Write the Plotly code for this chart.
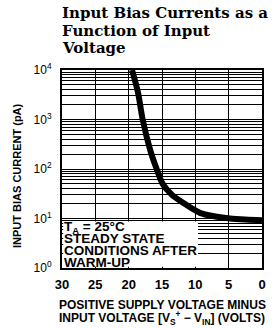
import plotly.graph_objects as go

# Data (volts, pA)
voltage = [19.5, 18.6, 17.9, 16.8, 15.8, 14.9, 13.5, 11.9, 9.3, 7.0, 4.8, 2.5, 0.0]
bias_pa = [10000, 3500, 1000, 250, 100, 50, 30, 21, 13, 11, 10, 9.5, 9.2]

x_ticks = [30, 25, 20, 15, 10, 5, 0]
y_ticks = [1, 10, 100, 1000, 10000]
y_ticktext = ["10<sup>0</sup>", "10<sup>1</sup>", "10<sup>2</sup>", "10<sup>3</sup>", "10<sup>4</sup>"]
y_minor = [m * 10 ** d for d in range(4) for m in range(2, 10)]

title_lines = ["Input Bias Currents as a", "Function of Input", "Voltage"]
box_lines = ["T<sub>A</sub> = 25°C", "STEADY STATE", "CONDITIONS AFTER", "WARM-UP"]
xtitle_lines = ["POSITIVE SUPPLY VOLTAGE MINUS",
                "INPUT VOLTAGE [V<sub>S</sub><sup>+</sup> − V<sub>IN</sub>] (VOLTS)"]

SANS = "Liberation Sans, Arial, sans-serif"
SERIF = "DejaVu Serif, serif"

W, H = 277, 328
ML, MR, MT, MB = 62, 15, 70, 60
PH = H - MT - MB


def py2paper(py):
    return (H - MB - py) / PH


fig = go.Figure()
fig.add_trace(go.Scatter(
    x=voltage, y=bias_pa, mode="lines",
    line=dict(color="black", width=6, shape="spline", smoothing=0.9),
    showlegend=False, hoverinfo="skip",
))

fig.update_layout(
    width=W, height=H,
    margin=dict(l=ML, r=MR, t=MT, b=MB, autoexpand=False),
    paper_bgcolor="white", plot_bgcolor="white",
    font=dict(family=SANS, color="black"),
    xaxis=dict(
        range=[30, 0], autorange=False,
        tickmode="array", tickvals=x_ticks, ticktext=[str(v) for v in x_ticks],
        showgrid=True, gridcolor="black", gridwidth=1.3,
        showline=True, linecolor="black", linewidth=2, mirror=True,
        ticks="", zeroline=False, ticklabelstandoff=3,
        tickfont=dict(family=SANS, size=13, color="black", weight="bold"),
    ),
    yaxis=dict(
        type="log", range=[0, 4], autorange=False,
        tickmode="array", tickvals=y_ticks, ticktext=y_ticktext,
        showgrid=True, gridcolor="black", gridwidth=1.3,
        showline=True, linecolor="black", linewidth=2, mirror=True,
        ticks="", zeroline=False, ticklabelstandoff=6,
        tickfont=dict(family=SANS, size=12, color="black"),
        minor=dict(tickmode="array", tickvals=y_minor, showgrid=True,
                   gridcolor="black", gridwidth=1),
    ),
)

# y axis title
fig.add_annotation(
    xref="paper", yref="paper", x=0, xshift=-(ML - 17), y=py2paper(176),
    xanchor="center", yanchor="middle", textangle=-90, showarrow=False,
    text="INPUT BIAS CURRENT (pA)",
    font=dict(family=SANS, size=11, color="black", weight="bold"),
)

# x axis title, two tightly spaced lines
for line, py in zip(xtitle_lines, [305, 318]):
    fig.add_annotation(
        xref="paper", yref="paper", x=0.5, y=py2paper(py),
        xanchor="center", yanchor="middle", showarrow=False,
        text=line, font=dict(family=SANS, size=12, color="black", weight="bold"),
    )

# White box hiding grid in lower left
fig.add_shape(type="rect", xref="x domain", yref="y domain",
              x0=0.006, x1=0.68, y0=0.006, y1=0.235,
              fillcolor="white", line=dict(width=0), layer="above")

for line, py in zip(box_lines, [227, 238, 250, 262]):
    fig.add_annotation(
        xref="paper", yref="paper", x=0, xshift=0, y=py2paper(py),
        xanchor="left", yanchor="middle", align="left", showarrow=False,
        text=line, font=dict(family=SANS, size=13.5, color="black", weight="bold"),
    )

# Title, three lines
for line, py in zip(title_lines, [13, 31, 48]):
    fig.add_annotation(
        xref="paper", yref="paper", x=0, xshift=-2, y=py2paper(py),
        xanchor="left", yanchor="middle", align="left", showarrow=False,
        text=line, font=dict(family=SERIF, size=15, color="black", weight="bold"),
    )

fig.write_html("out.html", config={"displayModeBar": False},
               post_script="document.body.style.margin='0';")
